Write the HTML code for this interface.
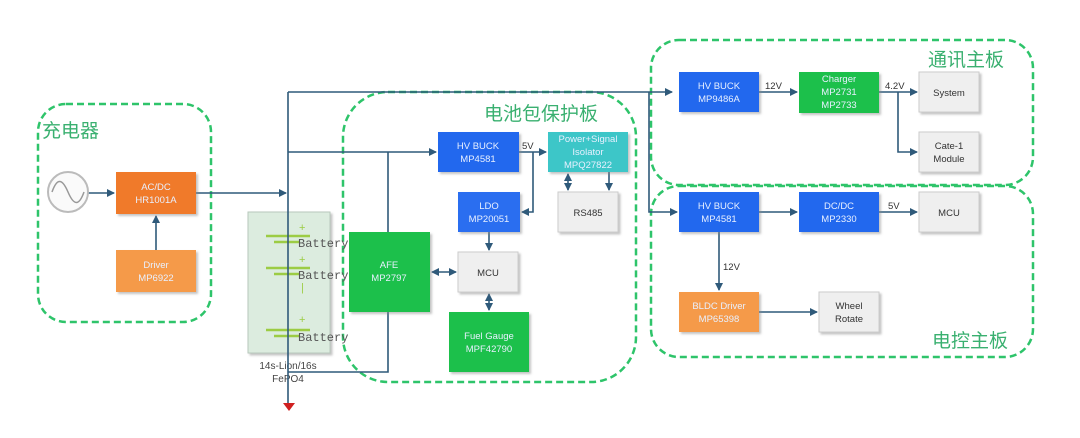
<!DOCTYPE html>
<html><head><meta charset="utf-8"><style>
html,body{margin:0;padding:0;background:#fff;width:1080px;height:438px;overflow:hidden}
svg text{font-family:"Liberation Sans","Noto Sans CJK SC",sans-serif}
</style></head><body>
<svg width="1080" height="438" viewBox="0 0 1080 438" xmlns="http://www.w3.org/2000/svg">
<defs>
<marker id="a" markerWidth="8" markerHeight="8" refX="7" refY="4" orient="auto" markerUnits="userSpaceOnUse"><path d="M0,0 L8,4 L0,8 z" fill="#2f5a7a"/></marker>
<marker id="s" markerWidth="8" markerHeight="8" refX="1" refY="4" orient="auto" markerUnits="userSpaceOnUse"><path d="M8,0 L0,4 L8,8 z" fill="#2f5a7a"/></marker>
<filter id="sh"><feDropShadow dx="2" dy="2" stdDeviation="1" flood-color="#888" flood-opacity="0.5"/></filter>
</defs>
<g fill="none" stroke="#2ec46a" stroke-width="2.5" stroke-dasharray="7,4">
<rect x="38" y="104" width="173" height="218" rx="28"/>
<rect x="343" y="92" width="293" height="290" rx="45"/>
<rect x="651" y="40" width="382" height="145" rx="28"/>
<rect x="651" y="186" width="382" height="171" rx="28"/>
</g>
<g fill="#3ab070" font-size="19">
<text x="42" y="137">充电器</text>
<text x="484" y="120">电池包保护板</text>
<text x="928" y="66">通讯主板</text>
<text x="932" y="347">电控主板</text>
</g>
<!-- battery panel -->
<rect x="248" y="212" width="82" height="141" fill="#dcecdf" stroke="#b8c8bc" filter="url(#sh)"/>
<g stroke="#9ccc44" stroke-width="2.5">
<line x1="266" y1="236" x2="310" y2="236"/><line x1="274" y1="242" x2="300" y2="242"/>
<line x1="266" y1="268" x2="310" y2="268"/><line x1="274" y1="274" x2="300" y2="274"/>
<line x1="266" y1="330" x2="310" y2="330"/><line x1="274" y1="336" x2="300" y2="336"/>
</g>
<g fill="#9ccc44" font-size="11"><text x="299" y="231">+</text><text x="299" y="263">+</text><text x="299" y="323">+</text><text x="301" y="291">|</text></g>
<g font-family="Liberation Serif" font-size="12" fill="#555"><text x="298" y="247" style="font-family:'Liberation Mono'">Battery</text><text x="298" y="279" style="font-family:'Liberation Mono'">Battery</text><text x="298" y="341" style="font-family:'Liberation Mono'">Battery</text></g>
<g font-size="10" fill="#444" text-anchor="middle"><text x="288" y="369">14s-Lion/16s</text><text x="288" y="382">FePO4</text></g>
<!-- lines -->
<g stroke="#2f5a7a" stroke-width="1.6" fill="none">
<line x1="288" y1="92" x2="288" y2="403"/>
<polyline points="288,92 672,92" marker-end="url(#a)"/>
<polyline points="288,152 436,152" marker-end="url(#a)"/>
<polyline points="388,152 388,232"/>
<polyline points="288,372 388,372 388,312"/>
<polyline points="88,193 114,193" marker-end="url(#a)"/>
<polyline points="196,193 286,193" marker-end="url(#a)"/>
<polyline points="156,250 156,216" marker-end="url(#a)"/>
<polyline points="519,152 546,152" marker-end="url(#a)"/>
<polyline points="533,152 533,212 522,212" marker-end="url(#a)"/>
<polyline points="489,232 489,250" marker-end="url(#a)"/>
<polyline points="432,272 456,272" marker-start="url(#s)" marker-end="url(#a)"/>
<polyline points="489,294 489,310" marker-start="url(#s)" marker-end="url(#a)"/>
<polyline points="568,174 568,190" marker-start="url(#s)" marker-end="url(#a)"/>
<polyline points="609,172 609,190" marker-end="url(#a)"/>
<polyline points="649,92 649,212 677,212" marker-end="url(#a)"/>
<polyline points="759,92 797,92" marker-end="url(#a)"/>
<polyline points="879,92 917,92" marker-end="url(#a)"/>
<polyline points="898,92 898,152 917,152" marker-end="url(#a)"/>
<polyline points="759,212 797,212" marker-end="url(#a)"/>
<polyline points="879,212 917,212" marker-end="url(#a)"/>
<polyline points="719,232 719,290" marker-end="url(#a)"/>
<polyline points="759,312 817,312" marker-end="url(#a)"/>
</g>
<path d="M283,403 L295,403 L289,411 z" fill="#d02020"/>
<circle cx="68" cy="192" r="20" fill="#fafafa" stroke="#bbb" stroke-width="2"/>
<path d="M52,192 C57,178 62,178 68,192 C74,206 79,206 84,192" fill="none" stroke="#999" stroke-width="1.5"/>
<!-- boxes -->
<g filter="url(#sh)" stroke="none">
<rect x="116" y="172" width="80" height="42" fill="#f07a2a"/>
<rect x="116" y="250" width="80" height="42" fill="#f59a48"/>
<rect x="349" y="232" width="81" height="80" fill="#1ec04c"/>
<rect x="438" y="132" width="81" height="40" fill="#2468ee"/>
<rect x="548" y="132" width="80" height="40" fill="#3cc6c8"/>
<rect x="458" y="192" width="62" height="40" fill="#2a6ef0"/>
<rect x="558" y="192" width="60" height="40" fill="#efefef" stroke="#ccc"/>
<rect x="458" y="252" width="60" height="40" fill="#efefef" stroke="#ccc"/>
<rect x="449" y="312" width="80" height="60" fill="#1ec04c"/>
<rect x="679" y="72" width="80" height="40" fill="#2468ee"/>
<rect x="799" y="72" width="80" height="41" fill="#1ec04c"/>
<rect x="919" y="72" width="60" height="40" fill="#efefef" stroke="#ccc"/>
<rect x="919" y="132" width="60" height="40" fill="#efefef" stroke="#ccc"/>
<rect x="679" y="192" width="80" height="40" fill="#2468ee"/>
<rect x="799" y="192" width="80" height="40" fill="#2468ee"/>
<rect x="919" y="192" width="60" height="40" fill="#efefef" stroke="#ccc"/>
<rect x="679" y="292" width="80" height="40" fill="#f59a48"/>
<rect x="819" y="292" width="60" height="40" fill="#efefef" stroke="#ccc"/>
</g>
<g font-size="9.5" text-anchor="middle" fill="#e8f0ff">
<text x="156" y="190">AC/DC</text><text x="156" y="203">HR1001A</text>
<text x="156" y="268">Driver</text><text x="156" y="281">MP6922</text>
<text x="389" y="268">AFE</text><text x="389" y="281">MP2797</text>
<text x="478" y="149">HV BUCK</text><text x="478" y="162">MP4581</text>
<text x="588" y="142">Power+Signal</text><text x="588" y="155">Isolator</text><text x="588" y="168">MPQ27822</text>
<text x="489" y="209">LDO</text><text x="489" y="222">MP20051</text>
<text x="489" y="339">Fuel Gauge</text><text x="489" y="352">MPF42790</text>
<text x="719" y="89">HV BUCK</text><text x="719" y="102">MP9486A</text>
<text x="839" y="82">Charger</text><text x="839" y="95">MP2731</text><text x="839" y="108">MP2733</text>
<text x="719" y="209">HV BUCK</text><text x="719" y="222">MP4581</text>
<text x="839" y="209">DC/DC</text><text x="839" y="222">MP2330</text>
<text x="719" y="309">BLDC Driver</text><text x="719" y="322">MP65398</text>
</g>
<g font-size="9.5" text-anchor="middle" fill="#333">
<text x="588" y="216">RS485</text>
<text x="488" y="276">MCU</text>
<text x="949" y="96">System</text>
<text x="949" y="149">Cate-1</text><text x="949" y="162">Module</text>
<text x="949" y="216">MCU</text>
<text x="849" y="309">Wheel</text><text x="849" y="322">Rotate</text>
</g>
<g font-size="9.5" fill="#333">
<text x="522" y="149">5V</text>
<text x="765" y="89">12V</text>
<text x="885" y="89">4.2V</text>
<text x="888" y="209">5V</text>
<text x="723" y="270">12V</text>
</g>
</svg>
</body></html>
